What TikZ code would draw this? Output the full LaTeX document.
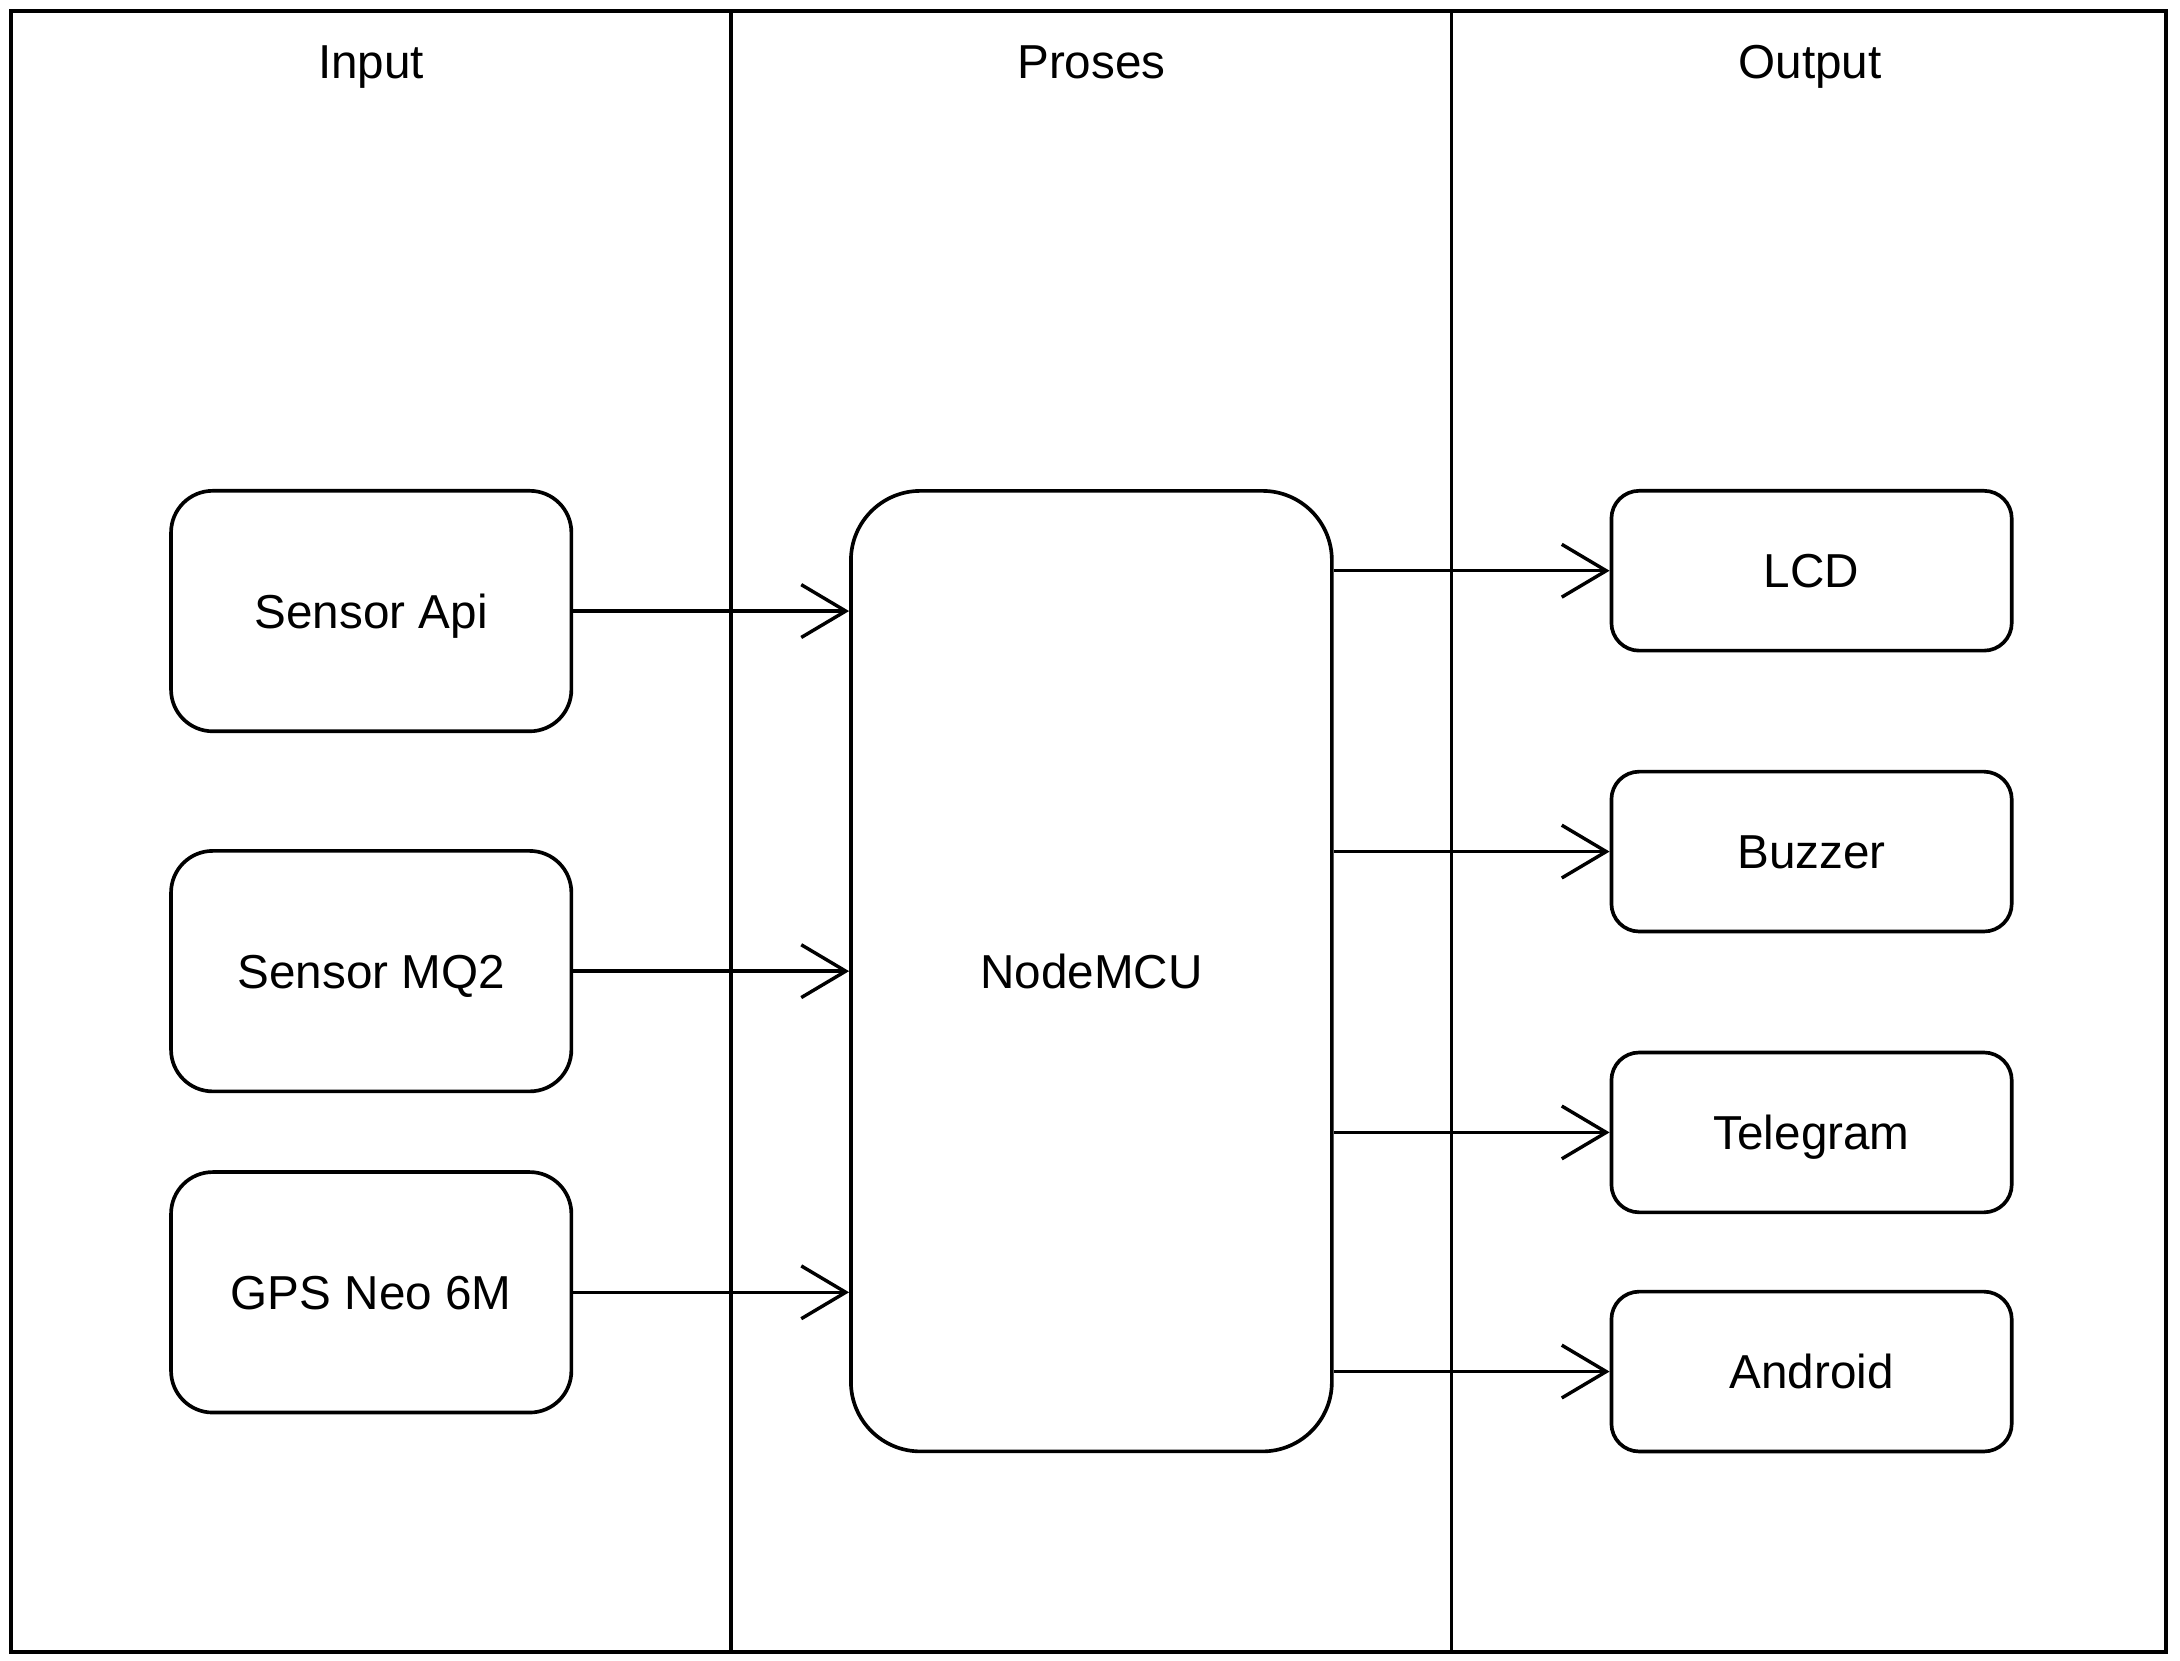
\documentclass[tikz,border=0pt]{standalone}
\usepackage{fontspec}
\setmainfont{Liberation Sans}
\usetikzlibrary{arrows.meta}
\tikzset{
	every node/.style={text height=14pt, text depth=0pt},
	inbox/.style={draw, line width=1.5pt, rounded corners=0.6cm, minimum width=5.76cm, minimum height=3.46cm},
	mcubox/.style={draw, line width=1.5pt, rounded corners=1cm, minimum width=6.92cm, minimum height=13.82cm},
	outbox/.style={draw, line width=1.5pt, rounded corners=0.4cm, minimum width=5.76cm, minimum height=2.3cm},
	conn/.style={line width=1.4pt, -{Straight Barb[length=0.64cm, width=0.76cm]}},
	lane/.style={line width=1.5pt}
}
\begin{document}
\begin{tikzpicture}[x=0.02cm, y=-0.02cm, font=\fontsize{19.5}{23}\selectfont]
	\useasboundingbox (0,0) rectangle (1568,1194);
	%lanes
	\draw[lane] (8,8) rectangle (1558,1188);
	\draw[lane] (526,8) -- (526,1188);
	\draw[lane] (1044,8) -- (1044,1188);
	\node (hin) at (267,44) {Input};
	\node (hpro) at (785,44) {Proses};
	\node (hout) at (1302,44) {Output};
	
	%input
	\node[inbox] (api) at (267,439.5) {Sensor Api};
	\node[inbox] (mq2) at (267,698.5) {Sensor MQ2};
	\node[inbox] (gps) at (267,929.5) {GPS Neo 6M};
	
	%proses
	\node[mcubox] (mcu) at (785,698.5) {NodeMCU};
	
	%output
	\node[outbox] (lcd) at (1303,410.5) {LCD};
	\node[outbox] (buzzer) at (1303,612.5) {Buzzer};
	\node[outbox] (telegram) at (1303,814.5) {Telegram};
	\node[outbox] (android) at (1303,986.5) {Android};
	
	\foreach \n in {api,mq2,gps}
	\draw[conn] (\n.east) -- (\n.east -| mcu.west);
	\foreach \n in {lcd,buzzer,telegram,android}
	\draw[conn] (\n.west -| mcu.east) -- (\n.west);
\end{tikzpicture}
\end{document}
